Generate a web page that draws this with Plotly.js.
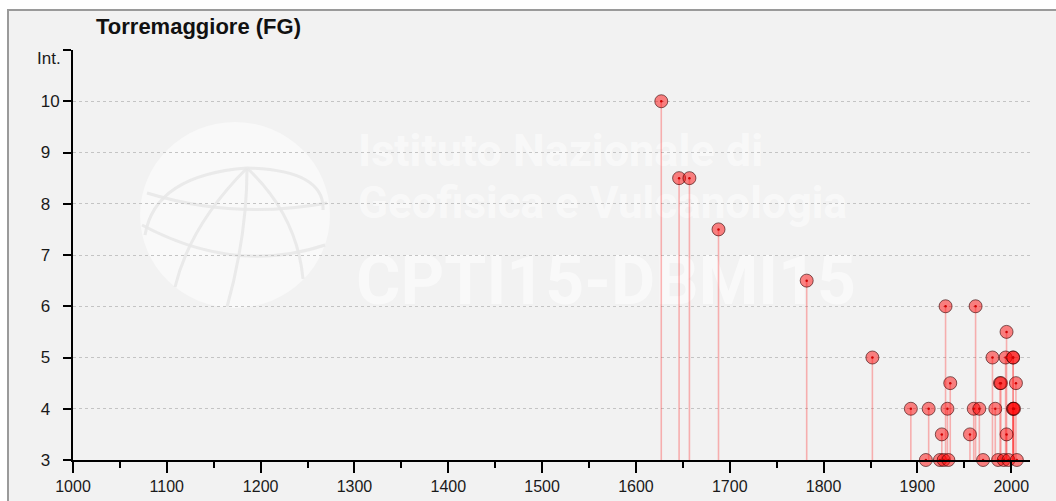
<!DOCTYPE html>
<html>
<head>
<meta charset="utf-8">
<script src="https://cdn.plot.ly/plotly-3.0.1.min.js"></script>
<style>
  html, body { margin: 0; padding: 0; background: #ffffff; overflow: hidden; width: 1056px; height: 501px; }
  #frame { position: absolute; left: 7px; top: 9px; width: 1100px; height: 600px;
           border-top: 2px solid #9a9a9a; border-left: 2px solid #9a9a9a; background: #f2f2f2; }
  #chart { position: absolute; left: 0; top: 0; width: 1060px; height: 500px; }
</style>
</head>
<body>
<div id="frame"><div id="chart"></div></div>
<script>
// ---- data ----
const chartTitle = "Torremaggiore (FG)";
const years = [1627, 1646, 1657, 1688, 1782, 1852,
               1893, 1909, 1912, 1924, 1926, 1928, 1930, 1932, 1933, 1935,
               1956, 1960, 1962, 1966, 1970, 1980, 1983, 1986, 1988, 1989,
               1992, 1994, 1995, 1995, 1997, 2002, 2002, 2002, 2002, 2003,
               2005, 2006];
const intensities = [10, 8.5, 8.5, 7.5, 6.5, 5,
               4, 3, 4, 3, 3.5, 3, 6, 4, 3, 4.5,
               3.5, 4, 6, 4, 3, 5, 4, 3, 4.5, 4.5,
               3, 5, 5.5, 3.5, 3, 5, 5, 4, 4, 4,
               4.5, 3];
const baseIntensity = 3;
const xTickVals = [1000, 1100, 1200, 1300, 1400, 1500, 1600, 1700, 1800, 1900, 2000];
const yTickVals = [3, 4, 5, 6, 7, 8, 9, 10, 11];
const yTickText = ["3\u2007", "4\u2007", "5\u2007", "6\u2007", "7\u2007", "8\u2007", "9\u2007", "10", ""];
const yAxisLabel = "Int.";
const watermarkLines = ["Istituto Nazionale di", "Geofisica e Vulcanologia", "CPTI15-DBMI15"];

// stems: from each point down to the base intensity
const stemLengths = intensities.map(v => v - baseIntensity);
const zeros = intensities.map(() => 0);

const FONT = "Liberation Sans, Arial, sans-serif";

const traces = [
  {
    type: "scatter", mode: "markers",
    x: years, y: intensities,
    cliponaxis: false,
    marker: { size: 13, color: "rgba(255,0,0,0.48)",
              line: { color: "rgba(50,0,0,0.6)", width: 1 } },
    error_y: { type: "data", symmetric: false, array: zeros, arrayminus: stemLengths,
               color: "rgba(255,50,50,0.35)", thickness: 1.6, width: 0 },
    hoverinfo: "x+y", showlegend: false
  },
  {
    type: "scatter", mode: "markers",
    x: years, y: intensities,
    cliponaxis: false,
    marker: { size: 2.5, color: "#d00000" },
    hoverinfo: "skip", showlegend: false
  }
];

// watermark decoration (pixel geometry relative to the plot area)
const wmColor = "rgba(255,255,255,0.55)";
const wmFont = "Liberation Sans Narrow, Roboto, sans-serif";
const globeLine = { color: "rgba(232,232,232,0.9)", width: 3 };
function globePath(p) {
  return { type: "path", layer: "below", xref: "paper", yref: "paper",
           xsizemode: "pixel", ysizemode: "pixel", xanchor: 0.1693, yanchor: 0.5976,
           path: p, line: globeLine };
}
const shapes = [
  { type: "circle", layer: "below", xref: "paper", yref: "paper",
    xsizemode: "pixel", ysizemode: "pixel", xanchor: 0.1693, yanchor: 0.5976,
    x0: -95, x1: 95, y0: -93, y1: 93,
    fillcolor: "rgba(255,255,255,0.5)", line: { width: 0 } },
  globePath("M -76 37 A 70 32 0 1 0 64 37 A 70 32 0 1 0 -76 37 Z"),
  globePath("M 12 47 Q -45 -10 -60 -72"),
  globePath("M 12 47 Q 12 -20 -8 -92"),
  globePath("M 12 47 Q 62 0 68 -64"),
  globePath("M -93 -10 Q 0 -60 90 -30"),
  globePath("M -88 22 Q 0 -5 92 12"),
  globePath("M 12 47 Q -80 40 -90 -20"),
  globePath("M 12 47 Q 90 45 88 5"),
  { type: "rect", layer: "below", xref: "paper", yref: "paper",
    x0: 0.2947, x1: 0.95, y0: 0.712, y1: 0.81, line: { width: 0 },
    label: { text: watermarkLines[0], textposition: "middle left", padding: 0,
             font: { family: wmFont, size: 45, color: wmColor, weight: "bold" } } },
  { type: "rect", layer: "below", xref: "paper", yref: "paper",
    x0: 0.2947, x1: 0.95, y0: 0.585, y1: 0.683, line: { width: 0 },
    label: { text: watermarkLines[1], textposition: "middle left", padding: 0,
             font: { family: wmFont, size: 44, color: wmColor, weight: "bold" } } },
  { type: "rect", layer: "below", xref: "paper", yref: "paper",
    x0: 0.2925, x1: 0.95, y0: 0.38, y1: 0.52, line: { width: 0 },
    label: { text: watermarkLines[2], textposition: "middle left", padding: 0,
             font: { family: wmFont, size: 68, color: wmColor, weight: "bold" } } }
];

const layout = {
  width: 1060, height: 500,
  margin: { l: 64, r: 39, t: 39, b: 51 },
  paper_bgcolor: "#f2f2f2", plot_bgcolor: "#f2f2f2",
  font: { family: FONT, color: "#1a1a1a" },
  title: { text: chartTitle, xref: "container", yref: "container",
           x: 0.0821, xanchor: "left", y: 0.97, yanchor: "middle",
           font: { family: FONT, size: 22, weight: "bold", color: "#111" } },
  xaxis: {
    range: [1000, 2020], tickmode: "array", tickvals: xTickVals,
    ticks: "outside", ticklen: 11, tickwidth: 2, tickcolor: "#000",
    showline: true, linewidth: 2, linecolor: "#000",
    showgrid: false, zeroline: false,
    tickfont: { family: FONT, size: 16, color: "#1a1a1a" },
    minor: { dtick: 50, tick0: 1000, ticks: "outside", ticklen: 6, tickwidth: 2, tickcolor: "#000", showgrid: false },
    fixedrange: true
  },
  yaxis: {
    range: [3, 11], tickmode: "array", tickvals: yTickVals, ticktext: yTickText,
    ticks: "outside", ticklen: 8, tickwidth: 2, tickcolor: "#000",
    showline: true, linewidth: 2, linecolor: "#000",
    showgrid: true, gridcolor: "#c4c4c4", griddash: "dot", gridwidth: 1,
    zeroline: false,
    tickfont: { family: FONT, size: 17, color: "#1a1a1a" },
    fixedrange: true
  },
  annotations: [
    { text: yAxisLabel, xref: "paper", yref: "y", x: 0, y: 11,
      xanchor: "right", yanchor: "middle", xshift: -10, yshift: -8,
      showarrow: false, font: { family: FONT, size: 17, color: "#1a1a1a" } }
  ],
  shapes: shapes,
  showlegend: false
};

Plotly.newPlot("chart", traces, layout, { displayModeBar: false, staticPlot: true });
</script>
</body>
</html>
